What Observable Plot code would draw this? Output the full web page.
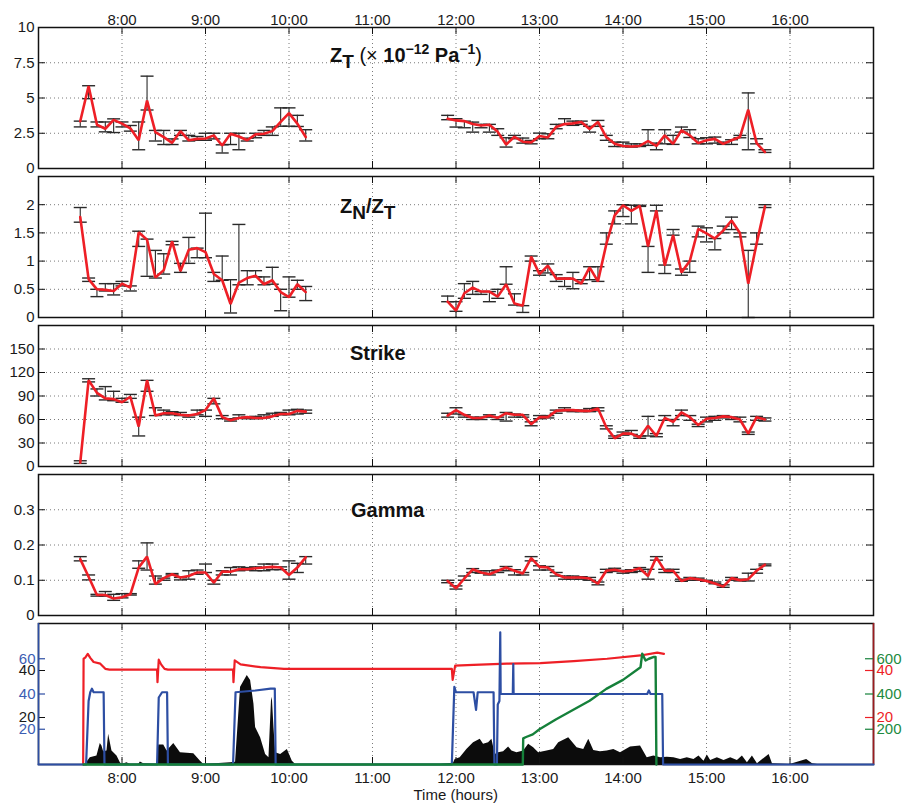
<!DOCTYPE html>
<html><head><meta charset="utf-8">
<script src="https://cdn.jsdelivr.net/npm/d3@7"></script>
<script src="https://cdn.jsdelivr.net/npm/@observablehq/plot@0.6"></script>
<style>
body{margin:0;background:#fff;font-family:"Liberation Sans",Arial,Helvetica,sans-serif;}
#chart{position:relative;width:903px;height:803px;overflow:hidden;background:#fff;}
.ttl{position:absolute;font-weight:bold;font-size:20px;color:#111;white-space:nowrap;line-height:1;}
.ttl .sb{font-size:19px;position:relative;top:6px;}
.ttl .sp{font-size:14px;position:relative;top:-8px;}
.ttl .x{font-weight:normal;}
.xl{position:absolute;font-size:15px;color:#1a1a1a;white-space:nowrap;line-height:1;}
</style></head><body><div id="chart"></div><script>
// ---------- data ----------
const hourTicks = [8, 9, 10, 11, 12, 13, 14, 15, 16];
const hours = [7.5,7.6,7.7,7.8,7.9,8.0,8.1,8.2,8.3,8.4,8.5,8.6,8.7,8.8,8.9,9.0,9.1,9.2,9.3,9.4,9.5,9.6,9.7,9.8,9.9,10.0,10.1,10.2,
  11.9,12.0,12.1,12.2,12.3,12.4,12.5,12.6,12.7,12.8,12.9,13.0,13.1,13.2,13.3,13.4,13.5,13.6,13.7,13.8,13.9,14.0,14.1,14.2,14.3,14.4,14.5,14.6,14.7,14.8,14.9,15.0,15.1,15.2,15.3,15.4,15.5,15.6,15.7];

const ztVal = [3.35,5.85,3.1,2.82,3.45,3.18,2.85,2.0,4.82,2.58,2.23,1.82,2.65,2.0,2.1,2.13,2.35,1.63,2.46,2.27,2.0,2.42,2.46,2.65,3.3,3.93,3.18,2.23,
  3.53,3.41,3.36,3.15,3.05,3.1,2.6,1.7,2.25,1.9,1.85,2.3,2.2,2.95,3.15,3.2,3.3,2.8,3.3,2.23,1.75,1.6,1.56,1.6,1.95,1.6,2.35,1.75,2.7,2.35,1.8,2.0,2.1,1.75,2.0,2.23,4.17,1.8,1.16];
const ztLo = [2.95,4.95,2.95,2.6,2.55,2.95,2.65,1.33,4.15,1.95,1.7,1.7,2.35,1.95,2.0,2.0,2.1,1.1,1.7,1.33,1.95,2.18,2.35,2.35,3.0,3.0,2.98,1.95,
  3.46,2.94,2.89,2.58,2.89,2.58,2.35,1.52,2.11,1.8,1.75,2.11,2.11,2.82,3.13,3.06,3.13,2.58,2.99,2.0,1.56,1.56,1.52,1.56,1.64,1.33,1.75,1.71,2.58,2.2,1.75,1.75,1.8,1.71,1.71,2.18,1.33,1.75,1.14];
const ztHi = [3.36,5.87,3.3,3.3,3.52,3.3,3.05,3.3,6.55,2.7,2.7,2.1,2.7,2.35,2.27,2.5,2.5,1.68,2.5,2.5,2.15,2.5,2.7,2.95,4.3,4.3,3.77,2.75,
  3.77,3.53,3.36,3.29,3.13,3.13,2.82,2.18,2.35,2.16,1.99,2.51,2.46,3.13,3.53,3.36,3.36,2.99,3.41,2.35,1.87,1.87,1.75,1.75,2.75,1.8,2.75,2.35,2.94,2.75,2.11,2.18,2.23,1.87,2.04,2.35,5.36,2.11,1.33];

const ratioVal = [1.78,0.68,0.50,0.49,0.47,0.60,0.53,1.51,1.38,0.71,0.84,1.35,0.82,1.2,1.23,1.16,0.77,0.66,0.24,0.62,0.70,0.74,0.59,0.66,0.45,0.36,0.59,0.45,
  0.28,0.12,0.43,0.53,0.46,0.46,0.37,0.59,0.25,0.21,1.08,0.77,0.92,0.69,0.69,0.69,0.60,0.89,0.64,1.3,1.81,1.99,1.89,1.98,1.26,1.9,0.92,1.46,0.8,1.0,1.57,1.49,1.4,1.54,1.72,1.5,0.6,1.31,1.97];
const ratioLo = [1.69,0.64,0.37,0.47,0.40,0.56,0.47,1.26,0.73,0.70,0.77,1.29,0.80,0.96,1.06,1.06,0.64,0.66,0.08,0.58,0.58,0.72,0.58,0.59,0.12,0.36,0.5,0.3,
  0.28,0.11,0.34,0.41,0.41,0.28,0.34,0.59,0.22,0.09,1.0,0.75,0.79,0.64,0.55,0.51,0.60,0.67,0.64,1.3,1.66,1.79,1.66,1.97,0.8,1.89,0.78,1.46,0.75,0.8,1.43,1.34,1.2,1.5,1.56,1.43,0,1.3,1.95];
const ratioHi = [1.95,0.70,0.50,0.60,0.60,0.64,0.56,1.53,1.39,1.19,1.13,1.35,0.96,1.42,1.23,1.85,0.80,1.09,0.67,1.65,0.83,0.83,0.72,0.89,0.50,0.72,0.66,0.55,
  0.38,0.28,0.60,0.64,0.46,0.46,0.50,0.90,0.42,0.21,1.09,0.83,0.95,0.76,0.70,0.80,0.67,0.90,0.90,1.5,1.89,2.0,1.99,1.99,1.26,1.99,0.93,1.56,0.86,1.0,1.62,1.59,1.4,1.62,1.78,1.5,1.19,1.5,2.0];

const strikeVal = [5,110,94,87,86,82,89,51,110,65,68,68,66,65,67,72,87,63,59,62,63,62,62,64,67,67,71,70,
  65,72,66,62,62,65,62,68,66,66,54,63,63,71,72,72,71,71,74,50,36,42,42,37,52,39,62,57,69,63,53,61,62,64,63,60,42,63,60];
const strikeLo = [3.9,108,90,85,84,82,87,39,96,65,66,66,65,63,66,64,80,61,58,62,61,61,62,64,66,66,67,68,
  63,67,63,60,60,63,60,58,63,63,52,61,62,68,71,70,70,70,71,48,36,40,41,36,39,38,59,52,65,59,51,57,59,62,60,57,41,59,58];
const strikeHi = [7.3,112,99,102,96,87,92,63,110,75,72,70,69,66,72,72,87,65,61,66,63,64,66,68,69,72,73,72,
  68,75,66,63,63,66,63,69,67,66,57,65,65,72,75,72,72,74,75,52,39,44,46,39,64,42,65,60,72,65,54,63,64,65,63,63,44,64,62];

const gammaVal = [0.16,0.11,0.058,0.058,0.048,0.052,0.06,0.136,0.167,0.089,0.106,0.117,0.108,0.112,0.122,0.122,0.093,0.125,0.124,0.131,0.131,0.134,0.136,0.138,0.136,0.115,0.136,0.165,
  0.098,0.077,0.105,0.131,0.122,0.117,0.127,0.136,0.127,0.119,0.163,0.138,0.136,0.117,0.108,0.108,0.108,0.105,0.09,0.127,0.13,0.125,0.127,0.134,0.112,0.165,0.127,0.127,0.098,0.106,0.103,0.098,0.091,0.082,0.106,0.1,0.103,0.127,0.144];
const gammaLo = [0.155,0.101,0.055,0.055,0.043,0.05,0.058,0.134,0.129,0.089,0.1,0.115,0.101,0.103,0.117,0.122,0.089,0.115,0.115,0.127,0.129,0.127,0.127,0.13,0.13,0.103,0.122,0.146,
  0.093,0.075,0.1,0.122,0.12,0.115,0.122,0.127,0.115,0.115,0.155,0.129,0.129,0.112,0.103,0.103,0.103,0.1,0.087,0.122,0.125,0.12,0.122,0.125,0.103,0.157,0.122,0.122,0.097,0.1,0.1,0.097,0.09,0.08,0.1,0.098,0.098,0.12,0.141];
const gammaHi = [0.167,0.115,0.06,0.068,0.06,0.062,0.062,0.155,0.206,0.112,0.106,0.119,0.108,0.127,0.129,0.146,0.1,0.127,0.136,0.138,0.136,0.138,0.146,0.146,0.138,0.155,0.148,0.167,
  0.1,0.084,0.112,0.133,0.127,0.127,0.129,0.139,0.13,0.122,0.167,0.141,0.139,0.122,0.112,0.112,0.11,0.108,0.095,0.131,0.134,0.128,0.13,0.136,0.131,0.167,0.131,0.131,0.103,0.108,0.106,0.1,0.095,0.087,0.108,0.103,0.12,0.131,0.146];

// bottom panel series
const blackT = [7.56,7.62,7.70,7.74,7.76,7.78,7.82,7.84,7.88,7.94,7.98,8.0,8.06,8.1,8.2,8.22,8.26,8.42,8.44,8.50,8.54,8.62,8.70,8.86,8.94,8.98,9.30,9.36,9.42,9.50,9.54,9.58,9.60,9.66,9.72,9.76,9.79,9.80,9.82,9.84,9.90,9.98,10.04,10.08,
  11.81,11.97,11.99,12.05,12.13,12.21,12.29,12.33,12.39,12.43,12.47,12.51,12.57,12.63,12.67,12.73,12.81,12.87,12.93,12.99,13.09,13.17,13.23,13.35,13.45,13.53,13.59,13.65,13.73,13.81,13.89,13.97,14.09,14.21,14.29,14.37,14.45,14.53,14.61,14.69,14.77,14.85,14.91,14.97,15.01,15.05,15.13,15.21,15.29,15.37,15.43,15.49,15.55,15.61,15.75,15.79,16.0,16.2,16.27,16.33];
const blackV = [0,2.9,3.6,8.9,7.9,5.4,5.7,12.9,5.7,3.6,0.7,0,0.7,0,0,1.1,0.3,0,8.3,8.3,5.7,8.9,5,4.6,1.4,0,0.7,1,32.9,37.9,35.7,25.7,15.7,11.4,4.3,2.9,27,28.6,15.7,5,4.3,6.4,1.4,0,
  0,0.5,2.1,2.9,6.4,9.3,10.7,8.6,9.3,10.7,4.3,5,5.4,7.4,5.7,5,5.7,8.6,7.1,5,5.7,6.4,9.3,11.4,7.1,6.4,10.7,6,5.4,5.7,6.4,5,7.4,7.9,2.9,3.6,2.9,3.1,2.9,2.1,2.9,2.1,3.6,1.4,4,1.7,2.9,1.7,2.9,1.7,3.6,0.7,3.6,0.3,4.3,0.3,0,2.1,0.3,0];

const blueT = [7.0,7.57,7.60,7.62,7.64,7.66,7.78,7.79,8.42,8.44,8.48,8.54,8.55,9.33,9.36,9.60,9.78,9.83,9.84,11.95,11.98,12.0,12.21,12.24,12.26,12.45,12.46,12.49,12.50,12.52,12.53,12.535,12.55,12.68,12.686,12.69,14.29,14.31,14.33,14.47,14.48,17.0];
const blueV = [0,0,36,41,43,41,41,0,0,38,41,41,0,0,41,42,43,43,0,0,44,41,41,31,41,41,0,0,34,36,75,40,40,40,57,40,40,42,40,40,0,0];

const redT = [7.535,7.54,7.56,7.59,7.62,7.66,7.74,7.80,7.85,8.42,8.425,8.44,8.47,8.51,8.55,9.33,9.335,9.35,9.42,9.66,9.82,9.94,11.95,11.96,11.99,12.21,12.61,13.01,13.41,13.81,14.21,14.41,14.49];
const redV = [0,45,45.5,47.1,45.4,43.6,42.9,40.7,40.4,40.4,35,44.6,42.5,40.7,40.4,40.4,35,44.3,42.6,41.4,41,40.7,40.7,36,42.1,42.4,42.9,43.1,44,45,46.4,47.6,47.1];

const greenT = [7.54,12.80,12.805,12.84,12.92,13.0,13.2,13.4,13.6,13.8,14.0,14.21,14.23,14.27,14.31,14.37,14.39,14.40];
const greenV = [0,0,148,156,171,200,257,309,362,429,480,552,629,590,600,610,610,0];

// ---------- drawing ----------
const FONT = '"Liberation Sans", Arial, Helvetica, sans-serif';
const W = 903, ML = 38, MR = 30, PH = 141, FW = W - ML - MR;
const root = document.getElementById("chart");
const GRID = {stroke: "#7a7a7a", strokeOpacity: 1, strokeDasharray: "1,3"};
const fmtH = h => `${h}:00`;
const capSymbol = {draw(ctx, size) { const w = Math.sqrt(size / Math.PI); ctx.moveTo(-w, 0); ctx.lineTo(w, 0); }};
const styleFor = color => ({fontFamily: FONT, fontSize: "15px", color, background: "transparent", overflow: "visible"});

function place(svg, top) {
  svg.style.position = "absolute";
  svg.style.top = top + "px";
  svg.style.left = "0px";
  svg.style.overflow = "visible";
  root.appendChild(svg);
}

function statPanel(frameTop, yDomain, yTicks, yGrid, val, lo, hi, topAxis) {
  const rows = hours.map((h, i) => ({h, v: val[i], lo: lo[i], hi: hi[i], seg: h < 11 ? "a" : "b"}));
  const mt = 10, mb = 10;
  const svg = Plot.plot({
    width: W, height: PH + mt + mb, marginLeft: ML, marginRight: MR, marginTop: mt, marginBottom: mb,
    style: styleFor("#1a1a1a"),
    x: {domain: [7, 17], axis: topAxis ? "top" : null, ticks: hourTicks, tickFormat: fmtH, tickSize: 0, tickPadding: 3, label: null},
    y: {domain: yDomain, ticks: yTicks, tickFormat: d => String(d), tickSize: 0, tickPadding: 4, label: null},
    marks: [
      Plot.ruleX(hourTicks, GRID),
      Plot.ruleY(yGrid, GRID),
      Plot.tickX(hourTicks, {x: d => d, insetBottom: PH - 7, stroke: "#111"}),
      Plot.tickX(hourTicks, {x: d => d, insetTop: PH - 7, stroke: "#111"}),
      Plot.tickY(yTicks, {y: d => d, insetRight: FW - 7, stroke: "#111"}),
      Plot.tickY(yTicks, {y: d => d, insetLeft: FW - 7, stroke: "#111"}),
      Plot.ruleX(rows, {x: "h", y1: "lo", y2: "hi", stroke: "#2a2a2a", strokeWidth: 1.1}),
      Plot.dot(rows, {x: "h", y: "lo", symbol: capSymbol, r: 6.5, stroke: "#2a2a2a", strokeWidth: 1.4, fill: "none"}),
      Plot.dot(rows, {x: "h", y: "hi", symbol: capSymbol, r: 6.5, stroke: "#2a2a2a", strokeWidth: 1.4, fill: "none"}),
      Plot.line(rows, {x: "h", y: "v", z: "seg", stroke: "#ee1f26", strokeWidth: 2.6, strokeLinejoin: "miter"}),
      Plot.frame({stroke: "#111", strokeWidth: 1.5})
    ]
  });
  place(svg, frameTop - mt);
}

statPanel(27, [0, 10], [0, 2.5, 5, 7.5, 10], [2.5, 5, 7.5], ztVal, ztLo, ztHi, true);
statPanel(176, [0, 2.5], [0, 0.5, 1, 1.5, 2], [0.5, 1, 1.5, 2], ratioVal, ratioLo, ratioHi, false);
statPanel(325, [0, 180], [0, 30, 60, 90, 120, 150], [30, 60, 90, 120, 150], strikeVal, strikeLo, strikeHi, false);
statPanel(474, [0, 0.4], [0, 0.1, 0.2, 0.3], [0.1, 0.2, 0.3], gammaVal, gammaLo, gammaHi, false);

// ---------- bottom panel: four overlaid y scales ----------
const P5TOP = 623, mt5 = 10, mb5 = 30;
const BLUE = "#2d4ea3", BLUE_T = "#3c5db3", RED = "#ee1f26", DRED = "#9c1b1f", GREEN = "#15803a", GREEN_T = "#1e8a40";
const base5 = {width: W, height: PH + mt5 + mb5, marginLeft: ML, marginRight: MR, marginTop: mt5, marginBottom: mb5};
const xNone = {domain: [7, 17], axis: null};
const blackRows = blackT.map((t, i) => ({t, v: blackV[i]}));
const blueRows = blueT.map((t, i) => ({t, v: blueV[i]}));
const redRows = redT.map((t, i) => ({t, v: redV[i]}));
const greenRows = greenT.map((t, i) => ({t, v: greenV[i]}));

place(Plot.plot({...base5, style: styleFor("#1a1a1a"),
  x: {domain: [7, 17], axis: "bottom", ticks: hourTicks, tickFormat: fmtH, tickSize: 0, tickPadding: 8, label: null},
  y: {domain: [0, 60], axis: "left", ticks: [20, 40], tickFormat: d => String(d), tickSize: 0, tickPadding: 3, label: null},
  marks: [
    Plot.ruleX(hourTicks, GRID),
    Plot.areaY(blackRows, {x: "t", y: "v", fill: "#0c0c0c"}),
    Plot.tickX(hourTicks, {x: d => d, insetBottom: PH - 7, stroke: "#111"}),
    Plot.tickX(hourTicks, {x: d => d, insetTop: PH - 7, stroke: "#111"}),
    Plot.tickY([20, 40], {y: d => d, insetRight: FW - 7, stroke: "#111"}),
    Plot.frame({stroke: "#111", strokeWidth: 1.5})
  ]}), P5TOP - mt5);

place(Plot.plot({...base5, style: styleFor(RED), x: xNone,
  y: {domain: [0, 60], axis: "right", ticks: [20, 40], tickFormat: d => String(d), tickSize: 0, tickPadding: 3, label: null},
  marks: [
    Plot.line(redRows, {x: "t", y: "v", stroke: RED, strokeWidth: 2.2}),
    Plot.tickY([20, 40], {y: d => d, insetLeft: FW - 8, stroke: RED, strokeWidth: 1.2}),
    Plot.ruleX([17], {stroke: DRED, strokeWidth: 1.6})
  ]}), P5TOP - mt5);

place(Plot.plot({...base5, style: styleFor(BLUE_T), x: xNone,
  y: {domain: [0, 80], axis: "left", ticks: [20, 40, 60], tickFormat: d => String(d), tickSize: 0, tickPadding: 3, label: null},
  marks: [
    Plot.line(blueRows, {x: "t", y: "v", stroke: BLUE, strokeWidth: 2.2}),
    Plot.tickY([20, 40, 60], {y: d => d, insetRight: FW - 7, stroke: BLUE, strokeWidth: 1.2}),
    Plot.ruleX([7], {stroke: BLUE, strokeWidth: 1.6})
  ]}), P5TOP - mt5);

place(Plot.plot({...base5, style: styleFor(GREEN_T), x: xNone,
  y: {domain: [0, 800], axis: "right", ticks: [200, 400, 600], tickFormat: d => String(d), tickSize: 0, tickPadding: 3, label: null},
  marks: [
    Plot.line(greenRows, {x: "t", y: "v", stroke: GREEN, strokeWidth: 2.4}),
    Plot.tickY([200, 400, 600], {y: d => d, insetLeft: FW - 8, stroke: GREEN, strokeWidth: 1.2})
  ]}), P5TOP - mt5);

// ---------- titles ----------
function addHTML(cls, html, left, top) {
  const d = document.createElement("div");
  d.className = cls; d.innerHTML = html;
  d.style.left = left + "px"; d.style.top = top + "px";
  root.appendChild(d);
  return d;
}
addHTML("ttl", 'Z<span class="sb">T</span> <span class="x">(×</span> 10<span class="sp">−12</span> Pa<span class="sp">−1</span><span class="x">)</span>', 330, 45);
addHTML("ttl", 'Z<span class="sb">N</span>/Z<span class="sb">T</span>', 340, 196);
addHTML("ttl", 'Strike', 350, 343);
addHTML("ttl", 'Gamma', 351, 500);
const xl = addHTML("xl", 'Time (hours)', 0, 787);
xl.style.left = (455.5 - xl.offsetWidth / 2) + "px";
</script></body></html>
